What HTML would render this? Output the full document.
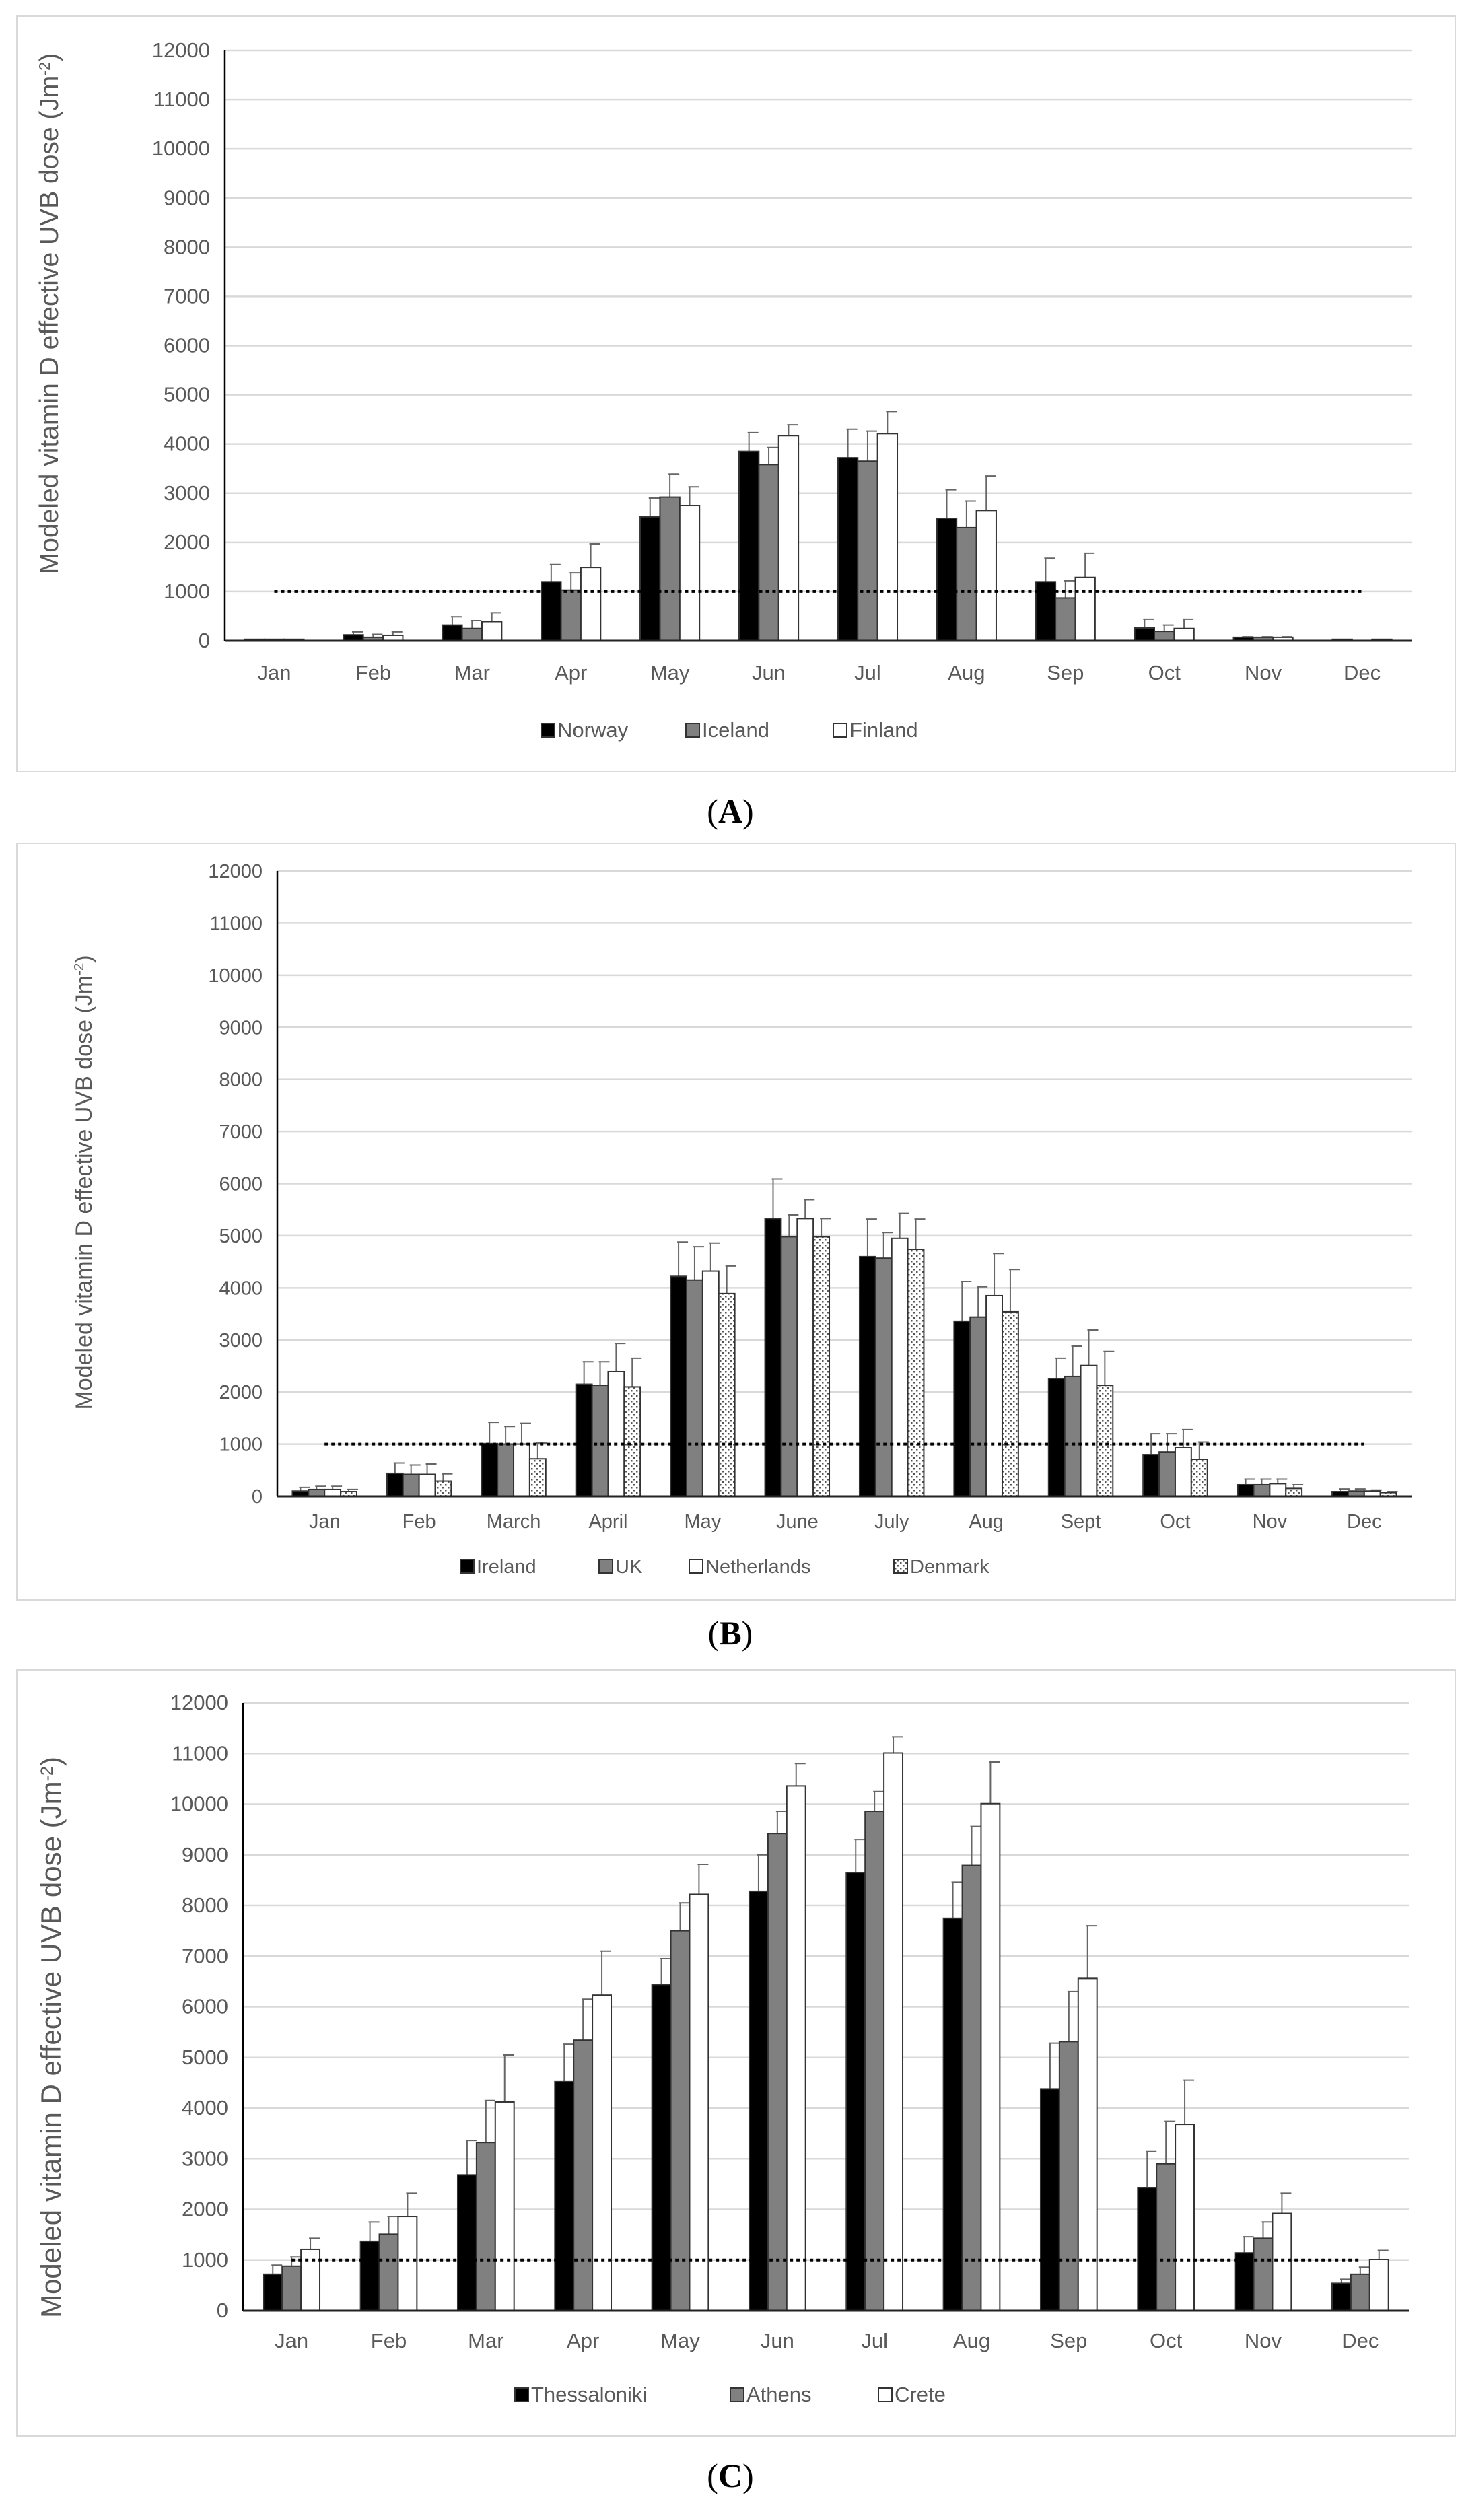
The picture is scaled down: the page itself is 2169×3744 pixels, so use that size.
<!DOCTYPE html>
<html><head><meta charset="utf-8">
<style>
html,body{margin:0;padding:0;background:#fff;}
body{width:2169px;height:3744px;position:relative;overflow:hidden;font-family:"Liberation Sans",sans-serif;}
svg{position:absolute;left:0;top:0;}
</style></head>
<body>
<svg id="fig" width="2169" height="3744" viewBox="0 0 2169 3744">
<defs>
<pattern id="dots" width="8" height="8" patternUnits="userSpaceOnUse">
<rect width="8" height="8" fill="#fff"/><rect x="1" y="1" width="2.5" height="2.5" fill="#555"/><rect x="5" y="5" width="2.5" height="2.5" fill="#555"/>
</pattern>
</defs>
</svg>
<script>
const ticksY = [0,1000,2000,3000,4000,5000,6000,7000,8000,9000,10000,11000,12000];
const threshold = 1000;

const monthsA = ["Jan","Feb","Mar","Apr","May","Jun","Jul","Aug","Sep","Oct","Nov","Dec"];
const seriesNamesA = ["Norway","Iceland","Finland"];
const norway = [30,120,320,1200,2520,3850,3720,2490,1200,260,70,30];
const iceland = [30,70,250,1030,2920,3580,3650,2300,870,190,70,0];
const finland = [30,110,390,1490,2750,4170,4210,2650,1290,250,70,30];
const norwayErr = [0,180,490,1550,2900,4230,4300,3070,1680,440,80,30];
const icelandErr = [0,130,410,1380,3390,3930,4260,2840,1220,320,80,0];
const finlandErr = [0,180,570,1970,3130,4390,4660,3350,1780,440,80,30];

const monthsB = ["Jan","Feb","March","April","May","June","July","Aug","Sept","Oct","Nov","Dec"];
const seriesNamesB = ["Ireland","UK","Netherlands","Denmark"];
const ireland = [100,440,1010,2150,4220,5330,4600,3360,2260,800,220,90];
const uk = [130,420,1000,2130,4150,4980,4570,3440,2300,850,220,100];
const netherlands = [130,420,1000,2390,4320,5330,4950,3850,2510,930,240,100];
const denmark = [90,290,720,2100,3890,4980,4740,3540,2130,710,150,70];
const irelandErr = [170,640,1420,2580,4880,6090,5320,4120,2650,1200,330,140];
const ukErr = [190,600,1340,2580,4790,5400,5060,4020,2880,1200,330,140];
const netherlandsErr = [190,620,1400,2930,4860,5690,5430,4660,3190,1280,330,120];
const denmarkErr = [130,430,1020,2650,4420,5330,5320,4350,2780,1040,220,90];

const monthsC = ["Jan","Feb","Mar","Apr","May","Jun","Jul","Aug","Sep","Oct","Nov","Dec"];
const seriesNamesC = ["Thessaloniki","Athens","Crete"];
const thessaloniki = [720,1370,2680,4520,6440,8280,8650,7750,4380,2430,1140,540];
const athens = [880,1510,3320,5340,7500,9420,9860,8790,5310,2900,1430,720];
const crete = [1210,1860,4120,6230,8220,10360,11010,10010,6560,3680,1920,1010];
const thessalonikiErr = [900,1750,3360,5260,6950,9000,9300,8460,5280,3140,1460,620];
const athensErr = [1060,1860,4150,6150,8050,9860,10250,9560,6300,3740,1750,860];
const creteErr = [1430,2320,5050,7100,8810,10800,11330,10830,7600,4550,2320,1190];

const NS = "http://www.w3.org/2000/svg";
const svg = document.getElementById("fig");
function mk(tag, attrs, parent){
  const e = document.createElementNS(NS, tag);
  for (const k in attrs) e.setAttribute(k, attrs[k]);
  (parent||svg).appendChild(e);
  return e;
}
const fills = ["#000","#808080","#fff","url(#dots)"];

function drawPanel(cfg){
  const g = mk("g", {});
  
  
  const fr = mk("rect", {x:cfg.fx, y:cfg.fy, width:cfg.fw, height:cfg.fh, fill:"#fff", stroke:"#d9d9d9", "stroke-width":2}, g);
  
  
  const yS = v => cfg.y0 + (cfg.y12 - cfg.y0) * v / 12000;
  const cw = (cfg.x1 - cfg.x0) / cfg.months.length;
  const xC = i => cfg.x0 + cw * (i + 0.5);
  ticksY.forEach(t => {
    if (t > 0) {
      const gl = mk("line", {x1:cfg.x0, x2:cfg.x1, y1:yS(t), y2:yS(t), stroke:"#d9d9d9", "stroke-width":2.5}, g);
      
      
    }
    const tl = mk("text", {x:cfg.x0 - 22, y:yS(t) + 10, "text-anchor":"end", "font-size":cfg.fs, fill:"#595959"}, g);
    tl.textContent = t;
    
    
  });
  const n = cfg.series.length;
  const bw = cw * cfg.frac / n;
  cfg.months.forEach((m, i) => {
    cfg.series.forEach((s, j) => {
      const x = xC(i) - bw * n / 2 + j * bw;
      const v = s[i];
      const e = cfg.errs[j][i];
      if (e > v) {
        const el = mk("line", {x1:x + bw/2, x2:x + bw/2, y1:yS(v), y2:yS(e), stroke:"#666", "stroke-width":2}, g);
        
        
        const cap = mk("line", {x1:x + bw/2 - 2, x2:x + bw/2 + 14, y1:yS(e), y2:yS(e), stroke:"#666", "stroke-width":2}, g);
        
        
      }
      if (v > 0) {
        const b = mk("rect", {x:x, y:yS(v), width:bw, height:yS(0) - yS(v), fill:fills[j], stroke:"#333", "stroke-width":2}, g);
        
        
      }
    });
    const ml = mk("text", {x:xC(i), y:cfg.my, "text-anchor":"middle", "font-size":cfg.fs, fill:"#595959"}, g);
    ml.textContent = m;
    
    
  });
  const th = mk("line", {x1:xC(0), x2:xC(cfg.months.length - 1), y1:yS(threshold), y2:yS(threshold), stroke:"#000", "stroke-width":4, "stroke-dasharray":"5,5"}, g);
  
  
  const ya = mk("line", {x1:cfg.x0, x2:cfg.x0, y1:yS(12000), y2:yS(0), stroke:"#000", "stroke-width":2.5}, g);
  
  
  const xa = mk("line", {x1:cfg.x0, x2:cfg.x1, y1:yS(0), y2:yS(0), stroke:"#222", "stroke-width":3}, g);
  
  
  const yt = mk("text", {x:0, y:0, "text-anchor":"middle", "font-size":cfg.lfs, fill:"#595959", transform:"translate(" + cfg.lx + "," + cfg.ly + ") rotate(-90)"}, g);
  
  
  yt.appendChild(document.createTextNode("Modeled vitamin D effective UVB dose (Jm"));
  const sup = mk("tspan", {dy:-12, "font-size":cfg.lfs * 0.6}, yt);
  sup.textContent = "-2";
  const cl = mk("tspan", {dy:12}, yt);
  cl.textContent = ")";
  cfg.names.forEach((nm, j) => {
    const lx = cfg.legX[j];
    const sw = mk("rect", {x:lx, y:cfg.legY - 20, width:20, height:20, fill:fills[j], stroke:"#333", "stroke-width":2}, g);
    
    
    const lt = mk("text", {x:lx + 24, y:cfg.legY, "font-size":cfg.fs, fill:"#595959"}, g);
    lt.textContent = nm;
    
    
  });
  const pl = mk("text", {x:1085, y:cfg.py, "text-anchor":"middle", "font-size":50, "font-family":"Liberation Serif, serif", fill:"#000"}, g);
  
  
  pl.appendChild(document.createTextNode("("));
  const bl = mk("tspan", {"font-weight":"bold"}, pl);
  bl.textContent = cfg.letter;
  pl.appendChild(document.createTextNode(")"));
}

drawPanel({id:"panel-a", letter:"A", fx:25, fy:24, fw:2137, fh:1122, x0:334, x1:2097, y0:952, y12:75,
  months:monthsA, names:seriesNamesA, series:[norway,iceland,finland], errs:[norwayErr,icelandErr,finlandErr],
  frac:0.6, fs:31, lfs:39, lx:86, ly:466, my:1010, legX:[804,1019,1238], legY:1095, py:1222});
drawPanel({id:"panel-b", letter:"B", fx:25, fy:1253, fw:2137, fh:1124, x0:412, x1:2097, y0:2223, y12:1294,
  months:monthsB, names:seriesNamesB, series:[ireland,uk,netherlands,denmark], errs:[irelandErr,ukErr,netherlandsErr,denmarkErr],
  frac:0.68, fs:29, lfs:34, lx:136, ly:1757, my:2270, legX:[684,890,1024,1328], legY:2337, py:2443});
drawPanel({id:"panel-c", letter:"C", fx:25, fy:2481, fw:2137, fh:1138, x0:361, x1:2093, y0:3433, y12:2530,
  months:monthsC, names:seriesNamesC, series:[thessaloniki,athens,crete], errs:[thessalonikiErr,athensErr,creteErr],
  frac:0.58, fs:31, lfs:42, lx:90, ly:3027, my:3488, legX:[765,1085,1305], legY:3568, py:3695});
</script>
</body></html>
